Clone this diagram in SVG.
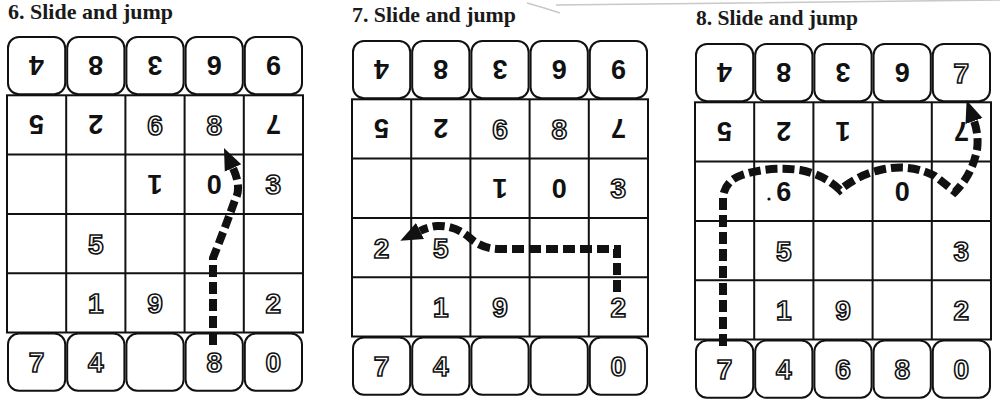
<svg xmlns="http://www.w3.org/2000/svg" xmlns:xlink="http://www.w3.org/1999/xlink" width="1000" height="402" viewBox="0 0 1000 402">
<style>
.title{font-family:"Liberation Serif","Times New Roman",serif;font-weight:bold;font-size:21px;fill:#1a1a1a}
.b{font-family:"Liberation Sans",Arial,sans-serif;font-weight:bold;font-size:27px;fill:#111;text-anchor:middle}
.o{font-family:"Liberation Sans",Arial,sans-serif;font-weight:bold;font-size:28px;fill:#fff;stroke:#111;stroke-width:1.6;text-anchor:middle}
.tile{fill:#fff;stroke:#111;stroke-width:2}
.grid{fill:none;stroke:#111;stroke-width:2}
.path{fill:none;stroke:#111;stroke-width:8;stroke-dasharray:12 5}
</style>
<defs>
<rect id="tile" class="tile" width="57.2" height="57.3" rx="11"/>
<g id="body">
<rect class="grid" x="0" y="59.3" width="296" height="237.2"/>
<path class="grid" d="M59.2,59.3V296.5M118.4,59.3V296.5M177.6,59.3V296.5M236.8,59.3V296.5M0,118.6H296M0,177.9H296M0,237.2H296"/>
</g>
<marker id="arrow" markerUnits="userSpaceOnUse" markerWidth="26" markerHeight="22" refX="0" refY="0" viewBox="0 -11 26 22" orient="auto">
<path d="M0,-9 L22,0 L0,9 Z" fill="#111"/>
</marker>
</defs>
<rect width="1000" height="402" fill="#fff"/>
<path d="M527,3 Q545,8 560,13 M556,5 Q700,3 1000,0" fill="none" stroke="#c8c8c8" stroke-width="1.5"/>

<g id="titles">
<text class="title" x="8" y="19" textLength="165" lengthAdjust="spacingAndGlyphs">6. Slide and jump</text>
<text class="title" x="352" y="22" textLength="164" lengthAdjust="spacingAndGlyphs">7. Slide and jump</text>
<text class="title" x="696" y="25" textLength="162" lengthAdjust="spacingAndGlyphs">8. Slide and jump</text>
</g>

<g id="puzzle6" transform="translate(7,36)">
<use xlink:href="#body"/>
<g id="p6-top">
<use xlink:href="#tile" x="1" y="1"/><use xlink:href="#tile" x="60.2" y="1"/><use xlink:href="#tile" x="119.4" y="1"/><use xlink:href="#tile" x="178.6" y="1"/><use xlink:href="#tile" x="237.8" y="1"/>
<text class="b" x="29.6" y="39.4" transform="rotate(180 29.6 29.7)">4</text>
<text class="b" x="88.8" y="39.4" transform="rotate(180 88.8 29.7)">8</text>
<text class="b" x="148" y="39.4" transform="rotate(180 148 29.7)">3</text>
<text class="b" x="207.2" y="39.4">9</text>
<text class="b" x="266.4" y="39.4">6</text>
</g>
<g id="p6-cells">
<text class="b" x="29.6" y="98.7" transform="rotate(180 29.6 89)">5</text>
<text class="b" x="88.8" y="98.7" transform="rotate(180 88.8 89)">2</text>
<text class="o" x="148" y="99">6</text>
<text class="o" x="207.2" y="99">8</text>
<text class="b" x="266.4" y="98.7" transform="rotate(180 266.4 89)">7</text>
<text class="b" x="148" y="158" transform="rotate(180 148 148.3)">1</text>
<text class="b" x="207.2" y="158">0</text>
<text class="o" x="266.4" y="158.3">3</text>
<text class="o" x="88.8" y="217.6">5</text>
<text class="o" x="88.8" y="276.9">1</text>
<text class="o" x="148" y="276.9">9</text>
<text class="o" x="266.4" y="276.9">2</text>
</g>
<g id="p6-bottom">
<use xlink:href="#tile" x="1" y="297.5"/><use xlink:href="#tile" x="60.2" y="297.5"/><use xlink:href="#tile" x="119.4" y="297.5"/><use xlink:href="#tile" x="178.6" y="297.5"/><use xlink:href="#tile" x="237.8" y="297.5"/>
<text class="o" x="29.6" y="336.2">7</text>
<text class="o" x="88.8" y="336.2">4</text>
<text class="o" x="207.2" y="336.2">8</text>
<text class="o" x="266.4" y="336.2">0</text>
</g>
</g>

<g id="puzzle7" transform="translate(352,40)">
<use xlink:href="#body"/>
<g id="p7-top">
<use xlink:href="#tile" x="1" y="1"/><use xlink:href="#tile" x="60.2" y="1"/><use xlink:href="#tile" x="119.4" y="1"/><use xlink:href="#tile" x="178.6" y="1"/><use xlink:href="#tile" x="237.8" y="1"/>
<text class="b" x="29.6" y="39.4" transform="rotate(180 29.6 29.7)">4</text>
<text class="b" x="88.8" y="39.4" transform="rotate(180 88.8 29.7)">8</text>
<text class="b" x="148" y="39.4" transform="rotate(180 148 29.7)">3</text>
<text class="b" x="207.2" y="39.4">9</text>
<text class="b" x="266.4" y="39.4">6</text>
</g>
<g id="p7-cells">
<text class="b" x="29.6" y="98.7" transform="rotate(180 29.6 89)">5</text>
<text class="b" x="88.8" y="98.7" transform="rotate(180 88.8 89)">2</text>
<text class="o" x="148" y="99">6</text>
<text class="o" x="207.2" y="99">8</text>
<text class="b" x="266.4" y="98.7" transform="rotate(180 266.4 89)">7</text>
<text class="b" x="148" y="158" transform="rotate(180 148 148.3)">1</text>
<text class="b" x="207.2" y="158">0</text>
<text class="o" x="266.4" y="158.3">3</text>
<text class="o" x="29.6" y="217.6">2</text>
<text class="o" x="88.8" y="217.6">5</text>
<text class="o" x="88.8" y="276.9">1</text>
<text class="o" x="148" y="276.9">9</text>
<text class="o" x="266.4" y="276.9">2</text>
</g>
<g id="p7-bottom">
<use xlink:href="#tile" x="1" y="297.5"/><use xlink:href="#tile" x="60.2" y="297.5"/><use xlink:href="#tile" x="119.4" y="297.5"/><use xlink:href="#tile" x="178.6" y="297.5"/><use xlink:href="#tile" x="237.8" y="297.5"/>
<text class="o" x="29.6" y="336.2">7</text>
<text class="o" x="88.8" y="336.2">4</text>
<text class="o" x="266.4" y="336.2">0</text>
</g>
</g>

<g id="puzzle8" transform="translate(695,43)">
<use xlink:href="#body"/>
<g id="p8-top">
<use xlink:href="#tile" x="1" y="1"/><use xlink:href="#tile" x="60.2" y="1"/><use xlink:href="#tile" x="119.4" y="1"/><use xlink:href="#tile" x="178.6" y="1"/><use xlink:href="#tile" x="237.8" y="1"/>
<text class="b" x="29.6" y="39.4" transform="rotate(180 29.6 29.7)">4</text>
<text class="b" x="88.8" y="39.4" transform="rotate(180 88.8 29.7)">8</text>
<text class="b" x="148" y="39.4" transform="rotate(180 148 29.7)">3</text>
<text class="b" x="207.2" y="39.4">9</text>
<text class="o" x="266.4" y="39.7">7</text>
</g>
<g id="p8-cells">
<text class="b" x="29.6" y="98.7" transform="rotate(180 29.6 89)">5</text>
<text class="b" x="88.8" y="98.7" transform="rotate(180 88.8 89)">2</text>
<text class="b" x="148" y="98.7" transform="rotate(180 148 89)">1</text>
<text class="b" x="266.4" y="98.7" transform="rotate(180 266.4 89)">7</text>
<circle cx="74" cy="156" r="1.6" fill="#111"/>
<text class="b" x="88.8" y="158">6</text>
<text class="b" x="207.2" y="158">0</text>
<text class="o" x="88.8" y="217.6">5</text>
<text class="o" x="266.4" y="217.6">3</text>
<text class="o" x="88.8" y="276.9">1</text>
<text class="o" x="148" y="276.9">9</text>
<text class="o" x="266.4" y="276.9">2</text>
</g>
<g id="p8-bottom">
<use xlink:href="#tile" x="1" y="297.5"/><use xlink:href="#tile" x="60.2" y="297.5"/><use xlink:href="#tile" x="119.4" y="297.5"/><use xlink:href="#tile" x="178.6" y="297.5"/><use xlink:href="#tile" x="237.8" y="297.5"/>
<text class="o" x="29.6" y="336.2">7</text>
<text class="o" x="88.8" y="336.2">4</text>
<text class="o" x="148" y="336.2">6</text>
<text class="o" x="207.2" y="336.2">8</text>
<text class="o" x="266.4" y="336.2">0</text>
</g>
</g>

<g id="connectors">
<path class="path" marker-end="url(#arrow)" d="M213,345 L213,258 Q225,228 235,200 Q242,188 233,168"/>
<path class="path" marker-end="url(#arrow)" d="M617,292 L617,249 L500,249 Q482,249 470,238 Q455,225 437,226 Q428,227 420,231"/>
<path class="path" marker-end="url(#arrow)" d="M723,346 L723,196 Q726,180 742,175 Q770,166 800,170 Q825,175 840,190 Q858,175 880,170 Q910,163 935,176 L955,192 Q972,175 977,150 Q979,135 974,121"/>
</g>
</svg>
